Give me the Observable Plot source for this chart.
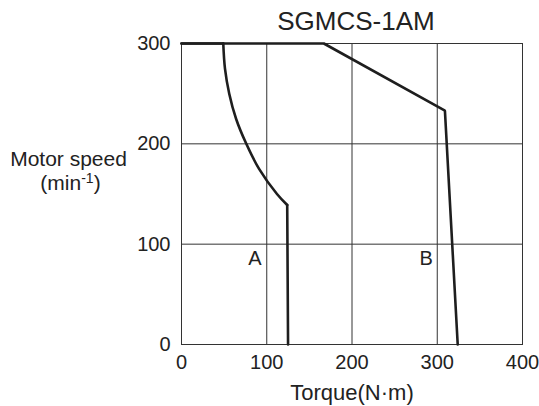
<!DOCTYPE html>
<html><head><meta charset="utf-8">
<script src="https://cdn.jsdelivr.net/npm/d3@7"></script>
<script src="https://cdn.jsdelivr.net/npm/@observablehq/plot@0.6"></script>
<style>body{margin:0;background:#fff;}</style>
</head><body><div id="chart"></div>
<script>
const title = "SGMCS-1AM";
const xLabel = "Torque(N·m)";
const yLabel1 = "Motor speed";
const yLabel2 = "(min-1)";
const xTicks = [0, 100, 200, 300, 400];
const yTicks = [0, 100, 200, 300];
const gridX = [100, 200, 300];
const gridY = [100, 200];

// Curve A (left)
const aTopTorque = [0, 49];
const aTopSpeed = [300, 300];
const aCurveTorque = [49, 51, 56, 64, 76, 91, 112, 124];
const aCurveSpeed = [300, 275, 250, 225, 200, 175, 150, 139];
const aTailTorque = [124, 125];
const aTailSpeed = [139, 0];

// Curve B (right)
const bTorque = [0, 167, 309, 324];
const bSpeed = [300, 300, 233, 0];

// Curve labels
const labelNames = ["A", "B"];
const labelTorque = [86, 287];
const labelSpeed = [86, 86];

const zip = (xs, ys) => xs.map((x, i) => ({x, y: ys[i]}));
const font = "'Liberation Sans', Arial, sans-serif";
const ink = "#1e1e1e";

const chart = Plot.plot({
  width: 539, height: 406,
  marginTop: 43, marginLeft: 181, marginRight: 17, marginBottom: 62,
  style: {fontFamily: font, fontSize: "20px", color: "#222", background: "#fff"},
  x: {domain: [0, 400]},
  y: {domain: [0, 300]},
  marks: [
    Plot.ruleX(gridX, {stroke: "#333", strokeWidth: 1}),
    Plot.ruleY(gridY, {stroke: "#333", strokeWidth: 1}),
    Plot.frame({stroke: "#333", strokeWidth: 1}),
    Plot.axisX(xTicks, {tickSize: 0, tickPadding: 10, fontSize: 20, label: null}),
    Plot.axisY(yTicks, {tickSize: 0, tickPadding: 11, fontSize: 20, label: null}),
    Plot.line(zip(aTopTorque, aTopSpeed), {x: "x", y: "y", stroke: ink, strokeWidth: 2.6}),
    Plot.line(zip(aCurveTorque, aCurveSpeed), {x: "x", y: "y", stroke: ink, strokeWidth: 2.6, curve: "catmull-rom"}),
    Plot.line(zip(aTailTorque, aTailSpeed), {x: "x", y: "y", stroke: ink, strokeWidth: 2.6}),
    Plot.line(zip(bTorque, bSpeed), {x: "x", y: "y", stroke: ink, strokeWidth: 2.6, strokeLinejoin: "miter"}),
    Plot.text(labelNames.map((t, i) => ({t, x: labelTorque[i], y: labelSpeed[i]})), {x: "x", y: "y", text: "t", fontSize: 20, fill: "#222"}),
    Plot.text([title], {text: d => d, frameAnchor: "top", lineAnchor: "middle", dy: -22, dx: 4, fontSize: 26, fill: "#222"}),
    Plot.text([{t: yLabel1, y: 185}], {text: "t", y: "y", frameAnchor: "left", textAnchor: "middle", dx: -113, fontSize: 21, fill: "#222"}),
    Plot.text([{t: yLabel2, y: 161}], {text: "t", y: "y", frameAnchor: "left", textAnchor: "middle", dx: -111, fontSize: 21, fill: "#222"}),
    Plot.text([xLabel], {text: d => d, frameAnchor: "bottom", lineAnchor: "middle", dy: 48, fontSize: 22, fill: "#222"})
  ]
});
document.getElementById("chart").appendChild(chart);

// superscript in the unit label
d3.select(chart).selectAll("text").each(function() {
  if (this.textContent === yLabel2) {
    const el = d3.select(this);
    el.text(null);
    el.append("tspan").text("(min");
    el.append("tspan").attr("font-size", 14).attr("dy", "-0.45em").text("-1");
    el.append("tspan").attr("dy", "0.3em").text(")");
  }
});
</script>
</body></html>
